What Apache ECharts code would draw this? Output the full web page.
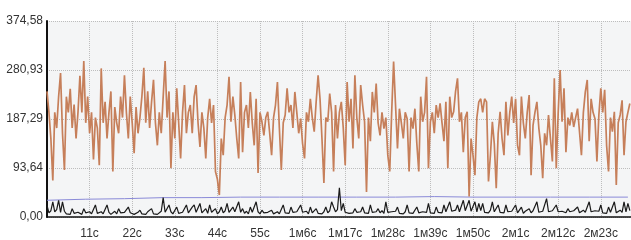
<!DOCTYPE html>
<html>
<head>
<meta charset="utf-8">
<script src="https://cdn.jsdelivr.net/npm/echarts@6/dist/echarts.min.js"></script>
<style>
  html, body { margin: 0; padding: 0; background: #fff; }
  #container { width: 631px; height: 240px; }
</style>
</head>
<body>
<div id="container"></div>
<script type="text/javascript">
    // шаг по времени, секунды
    var step = 0.5;
    var blueStep = 10;

    var xLabels = ['', '11с', '22с', '33с', '44с', '55с', '1м6с', '1м17с', '1м28с', '1м39с', '1м50с', '2м1с', '2м12с', '2м23с'];
    var yLabels = ['0,00', '93,64', '187,29', '280,93', '374,58'];

    var brownVals = [
        240, 200, 150, 70, 200, 170, 230, 275, 160, 90, 230, 200, 245, 170, 215, 150, 200, 270, 200, 298,
        180, 230, 160, 200, 110, 190, 170, 99, 284, 180, 220, 150, 200, 240, 87, 210, 180, 160, 230, 190,
        271, 200, 150, 230, 180, 122, 210, 160, 190, 230, 285, 180, 240, 170, 220, 262, 180, 137, 200, 160,
        230, 298, 190, 240, 93, 200, 150, 246, 180, 112, 200, 252, 160, 200, 214, 160, 230, 252, 180, 134,
        200, 170, 112, 190, 226, 180, 214, 87, 72, 42, 150, 118, 190, 214, 268, 182, 230, 195, 150, 112,
        258, 124, 200, 214, 170, 239, 180, 137, 226, 84, 200, 182, 156, 190, 201, 160, 118, 190, 214, 258,
        170, 90, 180, 195, 246, 200, 214, 170, 239, 200, 160, 188, 140, 112, 200, 182, 226, 190, 163, 220,
        271, 226, 150, 65, 190, 182, 236, 200, 87, 214, 150, 200, 220, 170, 99, 258, 182, 226, 131, 271,
        190, 150, 252, 214, 182, 48, 190, 145, 239, 200, 255, 180, 156, 200, 169, 190, 118, 87, 200, 297,
        294, 131, 207, 180, 150, 200, 188, 87, 190, 169, 207, 140, 87, 230, 182, 200, 268, 93, 182, 200,
        160, 214, 190, 217, 180, 145, 220, 93, 230, 190, 201, 240, 265, 182, 200, 124, 190, 201, 39, 150,
        118, 80, 190, 220, 226, 200, 226, 220, 68, 118, 182, 140, 55, 160, 201, 150, 118, 220, 156, 200,
        230, 180, 226, 137, 118, 230, 180, 150, 200, 233, 80, 175, 200, 220, 170, 137, 74, 160, 137, 195,
        150, 106, 265, 93, 200, 281, 182, 246, 124, 190, 175, 200, 172, 190, 207, 163, 118, 200, 239, 262,
        145, 226, 200, 188, 106, 195, 246, 200, 243, 137, 87, 190, 163, 201, 61, 180, 195, 223, 118, 182,
        200, 217
    ];

    var blackVals = [
        22, 8, 12, 29, 10, 14, 32, 9, 29, 11, 6, 9, 5, 16, 7, 4, 9, 6, 5, 16,
        8, 5, 10, 6, 9, 23, 7, 5, 10, 6, 8, 23, 9, 5, 7, 11, 6, 16, 8, 5,
        9, 6, 19, 8, 10, 5, 7, 9, 13, 6, 8, 5, 10, 7, 16, 6, 9, 5, 8, 11,
        37, 9, 7, 23, 10, 6, 8, 19, 7, 5, 9, 11, 23, 8, 10, 19, 23, 9, 12, 26,
        8, 10, 16, 7, 23, 9, 11, 16, 6, 10, 19, 8, 12, 26, 9, 7, 19, 10, 8, 29,
        9, 16, 7, 11, 6, 19, 9, 8, 29, 10, 6, 13, 8, 5, 9, 7, 13, 6, 8, 10,
        6, 9, 23, 8, 11, 7, 19, 9, 6, 10, 8, 23, 9, 7, 11, 6, 19, 8, 10, 16,
        7, 9, 6, 10, 19, 8, 12, 29, 19, 10, 14, 56, 12, 26, 9, 11, 7, 10, 8, 16,
        9, 6, 10, 19, 8, 11, 7, 23, 9, 6, 10, 16, 8, 12, 7, 29, 9, 6, 10, 8,
        11, 19, 7, 9, 6, 10, 23, 8, 11, 7, 9, 19, 8, 6, 10, 12, 9, 26, 8, 10,
        7, 19, 9, 12, 8, 23, 10, 7, 29, 11, 9, 13, 23, 10, 8, 32, 12, 9, 32, 11,
        14, 29, 10, 26, 12, 26, 9, 11, 8, 13, 29, 10, 7, 23, 9, 12, 8, 23, 10, 7,
        11, 9, 23, 8, 10, 19, 7, 11, 9, 16, 8, 12, 10, 29, 9, 7, 11, 9, 35, 10,
        8, 12, 9, 23, 10, 7, 11, 9, 8, 16, 10, 7, 12, 9, 19, 8, 10, 13, 9, 11,
        29, 10, 8, 12, 9, 11, 23, 8, 10, 7, 19, 9, 12, 29, 8, 10, 13, 9, 29, 10,
        26, 12
    ];

    var blueVals = [32, 34, 35, 37, 37, 38, 38, 38, 38, 38, 39, 38, 38, 38, 38, 38];

    function toPairs(arr, dt) {
        var out = [];
        for (var i = 0; i < arr.length; i++) {
            out.push([i * dt, arr[i]]);
        }
        return out;
    }

    var font = 'Liberation Sans Narrow, Liberation Sans, Arial, sans-serif';

    var dom = document.getElementById('container');
    var myChart = echarts.init(dom, null, { renderer: 'canvas' });

    var option = {
        animation: false,
        backgroundColor: '#ffffff',
        grid: {
            left: 47, right: 0, top: 21, bottom: 23,
            show: true, backgroundColor: '#f4f5f6', borderWidth: 0
        },
        xAxis: {
            type: 'value',
            min: 0,
            max: 150.8,
            interval: 11,
            axisLine: { show: true, onZero: false, lineStyle: { color: '#111', width: 1.5 } },
            axisTick: { show: false },
            splitLine: { show: true, lineStyle: { color: '#bdbdbd', type: 'dotted', width: 1 } },
            axisLabel: {
                margin: 11,
                color: '#333',
                fontSize: 12,
                fontFamily: font,
                showMaxLabel: false,
                formatter: function (v) {
                    var k = Math.round(v / 11);
                    if (Math.abs(v - k * 11) > 0.01) return '';
                    return xLabels[k] || '';
                }
            }
        },
        yAxis: {
            type: 'value',
            min: 0,
            max: 374.58,
            interval: 93.645,
            axisLine: { show: true, onZero: false, lineStyle: { color: '#111', width: 2 } },
            axisTick: { show: false },
            splitLine: { show: true, lineStyle: { color: '#bdbdbd', type: 'dotted', width: 1 } },
            axisLabel: {
                margin: 4,
                color: '#333',
                fontSize: 12,
                fontFamily: font,
                padding: [0, 0, 8, 0],
                formatter: function (v) {
                    var k = Math.round(v / 93.645);
                    return yLabels[k] || '';
                }
            }
        },
        series: [
            {
                name: 'blue',
                type: 'line',
                data: toPairs(blueVals, blueStep),
                showSymbol: false,
                lineStyle: { color: '#8a8ad8', width: 1 },
                z: 1
            },
            {
                name: 'brown',
                type: 'line',
                data: toPairs(brownVals, step),
                showSymbol: false,
                lineStyle: { color: '#c67f5a', width: 1.7 },
                z: 2
            },
            {
                name: 'black',
                type: 'line',
                data: toPairs(blackVals, step),
                showSymbol: false,
                lineStyle: { color: '#1a1a1a', width: 1.2 },
                z: 3
            }
        ]
    };

    if (option && typeof option === 'object') {
        myChart.setOption(option);
    }
</script>
</body>
</html>
